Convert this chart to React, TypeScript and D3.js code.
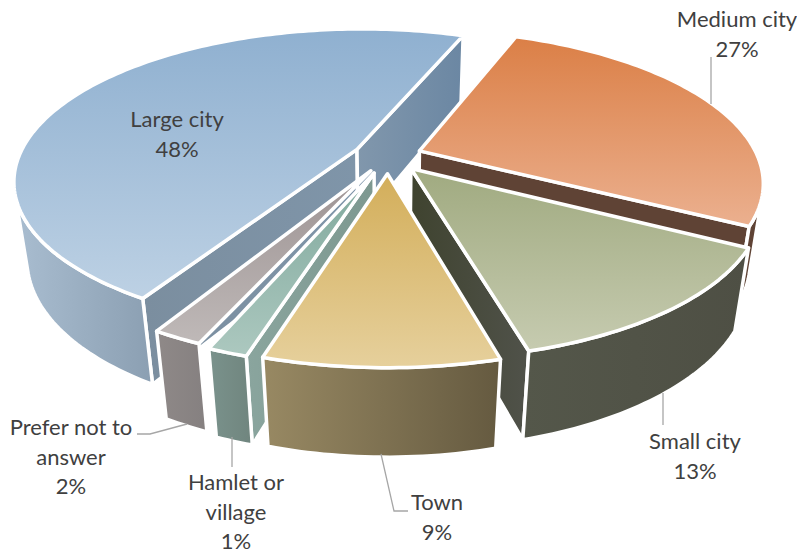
import React from "react";
import * as d3 from "d3";

const categories = ["Medium city", "Small city", "Town", "Hamlet or village", "Prefer not to answer", "Large city"];
const values = [27, 12.94, 8.9, 1.53, 2.19, 47.44];
const explosions = [0.1, 0.107, 0.118, 0.12, 0.11, 0.103];
const startTrimDeg = [0, 0, 0, 0, 1, 0.8];
const hiddenStartWalls = [4];
const topColors = [
  ["#DB7F46", "#EBB08F"],
  ["#A0AA80", "#C6CBB0"],
  ["#D3AE5A", "#E6D09C"],
  ["#7FA89C", "#ACC8BF"],
  ["#9C9292", "#BFB9B8"],
  ["#8FB0D0", "#BDD1E4"],
];
const rimColors = [
  ["#5F4335", "#5F4335"],
  ["#54574A", "#4E4F44"],
  ["#988963", "#655A40"],
  ["#7A928C", "#70857E"],
  ["#8F8988", "#858080"],
  ["#A9BDD0", "#8B9FB2"],
];
const startWallColors = [
  ["#5F4335", "#5F4335"],
  ["#3F432F", "#50524A"],
  ["#988963", "#655A40"],
  ["#8AA59E", "#7D9890"],
  ["#8F8988", "#858080"],
  ["#7B8E9F", "#7F95A9"],
];
const endWallColors = [
  ["#5F4335", "#5F4335"],
  ["#3F432F", "#50524A"],
  ["#988963", "#655A40"],
  ["#8AA59E", "#7D9890"],
  ["#8F8988", "#858080"],
  ["#8197AC", "#6B87A3"],
];
const labelLines = [
  ["Medium city", "27%"],
  ["Small city", "13%"],
  ["Town", "9%"],
  ["Hamlet or", "village", "1%"],
  ["Prefer not to", "answer", "2%"],
  ["Large city", "48%"],
];
const labelAnchors: [number, number][] = [[737, 27], [695, 449], [437, 510], [236, 490], [71, 435], [177, 127]];
const leaders: [number, number][][] = [
  [[711, 57], [711, 104]],
  [[663, 393], [663, 425]],
  [[381, 454], [394, 511], [408, 511]],
  [[232, 437], [232, 467]],
  [[137, 434], [150, 434], [187, 424]],
];

const START = 21 * Math.PI / 180;
const CX = 388, CY = 156, RX = 338, RY = 147, DEPTH = 80, P = 0.2, Q = 0.035;

type V2 = [number, number];
function project(u: number, v: number, z: number): V2 {
  const w = 1 + P * v + Q * z;
  return [CX + (u * RX) / w, CY + (-v * RY + z * DEPTH) / w];
}
const toPath = (pts: V2[]) => d3.line()(pts as any) + "Z";
const area = (pts: V2[]) => d3.polygonArea(pts as any);

const arcs = d3.pie<number>().sort(null).startAngle(START).endAngle(START + 2 * Math.PI)(values);
const drawOrder = [5, 0, 4, 3, 1, 2];

function sliceGeom(i: number) {
  const a0 = arcs[i].startAngle + (startTrimDeg[i] * Math.PI) / 180;
  const a1 = arcs[i].endAngle;
  const mid = (a0 + a1) / 2;
  const e = explosions[i];
  const ou = e * Math.sin(mid), ov = e * Math.cos(mid);
  const at = (t: number, z: number) => project(ou + Math.sin(t), ov + Math.cos(t), z);
  const apex = (z: number) => project(ou, ov, z);
  const n = Math.max(6, Math.ceil((a1 - a0) / 0.02));
  const ts = d3.range(n + 1).map((k) => a0 + ((a1 - a0) * k) / n);
  const top: V2[] = [apex(0), ...ts.map((t) => at(t, 0))];
  const walls = [a0, a1].map((t, k) => {
    const q: V2[] = [apex(0), at(t, 0), at(t, 1), apex(1)];
    const hidden = k === 0 && hiddenStartWalls.includes(i);
    const visible = !hidden && (k === 0 ? area(q) > 0 : area(q) < 0);
    return { q, visible, k };
  });
  const rims: V2[][] = [];
  let cur: number[] = [];
  const flush = () => {
    if (cur.length) rims.push([...cur.map((c) => at(c, 0)), ...cur.slice().reverse().map((c) => at(c, 1))]);
    cur = [];
  };
  ts.forEach((t, k) => {
    if (k === ts.length - 1) return;
    const t2 = ts[k + 1];
    const quad: V2[] = [at(t, 0), at(t2, 0), at(t2, 1), at(t, 1)];
    if (area(quad) > 0) {
      if (!cur.length) cur.push(t);
      cur.push(t2);
    } else flush();
  });
  flush();
  return { top, walls, rims };
}

const Grad = ({ id, c, vertical }: { id: string; c: string[]; vertical?: boolean }) => (
  <linearGradient id={id} x1="0" y1="0" x2={vertical ? 0 : 1} y2={vertical ? 1 : 0}>
    <stop offset="0" stopColor={c[0]} />
    <stop offset="1" stopColor={c[1]} />
  </linearGradient>
);

export default function App() {
  const SW = 3.5;
  return (
    <svg width={797} height={554} viewBox="0 0 797 554" style={{ position: "absolute", left: 0, top: 0, background: "#fff" }}>
      <defs>
        {categories.map((_, i) => (
          <React.Fragment key={i}>
            <Grad id={`t${i}`} c={topColors[i]} vertical />
            <Grad id={`r${i}`} c={rimColors[i]} />
            <Grad id={`w0${i}`} c={startWallColors[i]} />
            <Grad id={`w1${i}`} c={endWallColors[i]} />
          </React.Fragment>
        ))}
      </defs>
      {drawOrder.map((i) => {
        const g = sliceGeom(i);
        return (
          <g key={i} stroke="#fff" strokeWidth={SW} strokeLinejoin="round">
            {g.walls.filter((w) => w.visible).map((w) => (
              <path key={w.k} d={toPath(w.q)} fill={`url(#w${w.k}${i})`} />
            ))}
            {g.rims.map((r, k) => (
              <path key={k} d={toPath(r)} fill={`url(#r${i})`} />
            ))}
            <path d={toPath(g.top)} fill={`url(#t${i})`} />
          </g>
        );
      })}
      {leaders.map((l, i) => (
        <path key={i} d={d3.line()(l as any) as string} fill="none" stroke="#A6A6A6" strokeWidth={1.3} />
      ))}
      {labelLines.map((lines, i) => (
        <text key={i} textAnchor="middle" fontFamily="Lato" fontSize={22} fill="#404040">
          {lines.map((s, k) => (
            <tspan key={k} x={labelAnchors[i][0]} y={labelAnchors[i][1] + k * 29.7}>{s}</tspan>
          ))}
        </text>
      ))}
    </svg>
  );
}
